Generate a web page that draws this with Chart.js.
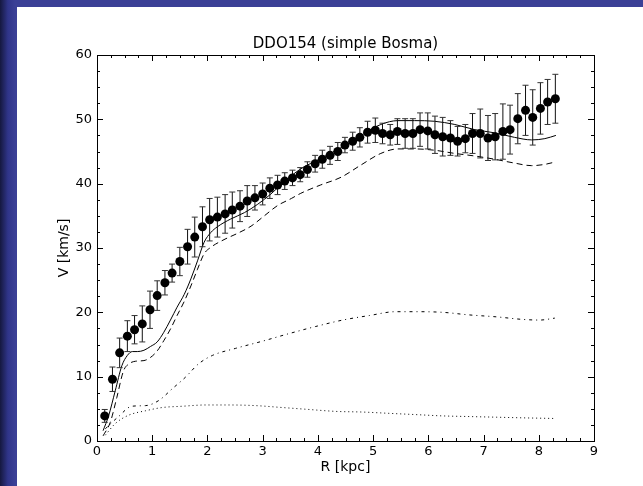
<!DOCTYPE html>
<html>
<head>
<meta charset="utf-8">
<script src="https://cdn.jsdelivr.net/npm/chart.js@4.4.1/dist/chart.umd.min.js"></script>
<style>
  html, body { margin: 0; padding: 0; }
  body {
    width: 643px; height: 486px; overflow: hidden; position: relative;
    background: linear-gradient(to right, #15183f 0px, #30358a 8px, #3b4096 15px, #3b4096 100%);
  }
  #panel { position: absolute; left: 17px; top: 7px; width: 626px; height: 479px; background: #fff; }
  canvas { display: block; }
</style>
</head>
<body>
<div id="panel"><canvas id="rc" width="626" height="479"></canvas></div>
<script>
// observed rotation curve
const rObs = [0.14, 0.28, 0.41, 0.55, 0.68, 0.82, 0.96, 1.09, 1.23, 1.36, 1.50, 1.64, 1.77, 1.91, 2.04, 2.18,
  2.32, 2.45, 2.59, 2.72, 2.86, 3.00, 3.13, 3.27, 3.40, 3.54, 3.68, 3.81, 3.95, 4.08, 4.22, 4.36, 4.49, 4.63,
  4.76, 4.90, 5.04, 5.17, 5.31, 5.44, 5.58, 5.72, 5.85, 5.99, 6.12, 6.26, 6.40, 6.53, 6.67, 6.80, 6.94, 7.08,
  7.21, 7.35, 7.48, 7.62, 7.76, 7.89, 8.03, 8.16, 8.30];
const vObs = [3.9, 9.6, 13.7, 16.3, 17.3, 18.2, 20.4, 22.6, 24.6, 26.1, 27.9, 30.2, 31.7, 33.3, 34.4, 34.8,
  35.3, 35.9, 36.5, 37.3, 37.8, 38.4, 39.3, 39.8, 40.4, 40.9, 41.4, 42.2, 43.1, 43.8, 44.4, 45.0, 46.0, 46.6,
  47.2, 48.0, 48.3, 47.8, 47.6, 48.1, 47.8, 47.8, 48.4, 48.2, 47.6, 47.3, 47.1, 46.6, 47.0, 47.8, 47.8, 47.1,
  47.3, 48.1, 48.4, 50.1, 51.4, 50.3, 51.7, 52.7, 53.2];
const vErr = [1.0, 1.9, 2.3, 2.4, 2.2, 2.8, 2.9, 2.3, 1.9, 1.4, 2.2, 2.7, 3.1, 3.1, 3.3, 3.1,
  3.0, 2.8, 2.4, 2.4, 1.9, 1.7, 1.6, 1.5, 1.3, 1.2, 1.1, 1.2, 1.3, 1.4, 1.4, 1.4, 1.2, 1.4,
  1.5, 1.7, 1.9, 1.6, 1.6, 2.0, 2.3, 2.3, 2.6, 2.8, 2.9, 3.0, 2.7, 2.3, 2.2, 3.1, 3.8, 3.5,
  3.6, 4.3, 3.8, 3.9, 3.9, 4.3, 4.0, 3.5, 3.8];

// total model (solid)
const rTotal = [0.11, 0.21, 0.33, 0.45, 0.55, 0.64, 0.73, 0.85, 0.97, 1.09, 1.21, 1.33, 1.45, 1.58, 1.70, 1.82,
  1.94, 2.06, 2.18, 2.42, 2.67, 2.91, 3.15, 3.39, 3.69, 4.05, 4.42, 4.78, 5.14, 5.45, 5.75, 6.11, 6.48, 6.84,
  7.20, 7.56, 7.87, 8.11, 8.31];
const vTotal = [1.6, 3.9, 7.8, 11.7, 13.3, 13.9, 13.9, 14.1, 14.7, 15.4, 16.9, 18.8, 20.8, 22.8, 25.2, 28.0,
  30.9, 32.4, 33.3, 34.5, 35.5, 36.8, 38.4, 40.3, 42.3, 43.9, 45.6, 47.5, 49.2, 49.8, 49.8, 49.7, 49.2, 48.4,
  47.9, 47.2, 46.8, 47.0, 47.5];

// halo (dashed)
const rHalo = [0.11, 0.24, 0.36, 0.48, 0.58, 0.70, 0.85, 0.97, 1.09, 1.21, 1.33, 1.45, 1.58, 1.70, 1.82, 1.94,
  2.06, 2.30, 2.55, 2.79, 3.03, 3.27, 3.52, 3.69, 4.05, 4.42, 4.78, 5.14, 5.45, 5.75, 6.11, 6.48, 6.84, 7.20,
  7.56, 7.87, 8.11, 8.31];
const vHalo = [0.8, 2.9, 6.8, 10.9, 12.0, 12.4, 12.5, 13.0, 14.0, 15.6, 17.4, 19.5, 21.7, 24.1, 26.7, 29.1,
  30.1, 31.3, 32.3, 33.4, 35.0, 36.6, 37.7, 38.5, 39.8, 41.0, 42.9, 44.7, 45.4, 45.4, 45.2, 44.7, 44.3, 43.8,
  43.2, 42.8, 43.0, 43.4];

// gas (dash-dot)
const rGas = [0.15, 0.39, 0.63, 0.88, 1.12, 1.36, 1.60, 1.84, 2.09, 2.51, 2.99, 3.48, 3.96, 4.45, 4.93, 5.41,
  5.78, 6.26, 6.74, 7.23, 7.71, 8.02, 8.29];
const vGas = [1.9, 3.8, 5.4, 5.5, 6.3, 8.1, 9.9, 12.0, 13.3, 14.4, 15.5, 16.7, 17.8, 18.8, 19.5, 20.1,
  20.1, 20.0, 19.6, 19.3, 18.9, 18.8, 19.1];

// stars (dotted)
const rStar = [0.15, 0.33, 0.57, 0.88, 1.18, 1.54, 1.97, 2.39, 2.87, 3.36, 3.84, 4.33, 4.81, 5.29, 5.78, 6.26,
  6.74, 7.23, 7.71, 8.29];
const vStar = [0.9, 2.7, 4.0, 4.7, 5.2, 5.4, 5.6, 5.6, 5.5, 5.2, 4.9, 4.6, 4.5, 4.3, 4.1, 3.9,
  3.8, 3.7, 3.6, 3.5];

const FONT = "'DejaVu Sans', sans-serif";

function pairs(xs, ys) {
  return xs.map((x, i) => ({ x: x, y: ys[i] }));
}

// error bars as broken line segments, caps drawn as 'line' points
const errData = [];
rObs.forEach((r, i) => {
  errData.push({ x: r, y: vObs[i] - vErr[i] });
  errData.push({ x: r, y: vObs[i] + vErr[i] });
  errData.push({ x: r, y: null });
});

function curve(xs, ys, dash) {
  return {
    data: pairs(xs, ys),
    showLine: true,
    borderColor: "#000",
    borderWidth: 1,
    borderDash: dash,
    pointRadius: 0,
    cubicInterpolationMode: "monotone",
  };
}

// inward ticks on all four sides plus the frame
const frameTicks = {
  id: "frameTicks",
  afterDatasetsDraw(chart) {
    const { ctx, chartArea: a, scales: { x, y } } = chart;
    ctx.save();
    ctx.strokeStyle = "#000";
    ctx.lineWidth = 1;
    ctx.beginPath();
    for (let k = 0; k <= 36; k++) {
      const px = Math.round(x.getPixelForValue(k * 0.25)) + 0.5;
      const len = k % 4 === 0 ? 6 : 3;
      ctx.moveTo(px, a.bottom); ctx.lineTo(px, a.bottom - len);
      ctx.moveTo(px, a.top); ctx.lineTo(px, a.top + len);
    }
    for (let k = 0; k <= 24; k++) {
      const py = Math.round(y.getPixelForValue(k * 2.5)) + 0.5;
      const len = k % 4 === 0 ? 6 : 3;
      ctx.moveTo(a.left, py); ctx.lineTo(a.left + len, py);
      ctx.moveTo(a.right, py); ctx.lineTo(a.right - len, py);
    }
    ctx.stroke();
    ctx.strokeRect(Math.round(a.left) + 0.5, Math.round(a.top) + 0.5,
      Math.round(a.right - a.left), Math.round(a.bottom - a.top));
    ctx.restore();
  },
};

new Chart(document.getElementById("rc"), {
  type: "scatter",
  data: {
    datasets: [
      {
        data: pairs(rObs, vObs),
        pointRadius: 4.5,
        pointBackgroundColor: "#000",
        pointBorderWidth: 0,
      },
      {
        data: errData,
        showLine: true,
        spanGaps: false,
        borderColor: "#111",
        borderWidth: 1,
        pointStyle: "line",
        pointRadius: 3,
        pointBorderColor: "#333",
        pointBorderWidth: 1,
      },
      curve(rTotal, vTotal, []),
      curve(rHalo, vHalo, [6, 4]),
      curve(rGas, vGas, [3, 4, 1, 4]),
      curve(rStar, vStar, [1, 3]),
    ],
  },
  options: {
    responsive: false,
    animation: false,
    events: [],
    layout: { padding: { left: 0, right: 49, top: 0, bottom: 0 } },
    plugins: {
      legend: { display: false },
      tooltip: { enabled: false },
      title: {
        display: true,
        text: "DDO154 (simple Bosma)",
        fullSize: false,
        color: "#000",
        font: { family: FONT, size: 15, weight: "normal" },
        padding: { top: 28.5, bottom: 1.5 },
      },
    },
    scales: {
      x: {
        type: "linear",
        min: 0,
        max: 9,
        grid: { display: false, drawTicks: false },
        border: { display: false },
        ticks: { stepSize: 1, color: "#000", padding: 3, font: { family: FONT, size: 13 } },
        title: {
          display: true,
          text: "R [kpc]",
          color: "#000",
          font: { family: FONT, size: 14 },
          padding: { top: 0, bottom: 10 },
        },
        afterFit(s) { s.height = 45; },
      },
      y: {
        type: "linear",
        min: 0,
        max: 60,
        grid: { display: false, drawTicks: false },
        border: { display: false },
        ticks: { stepSize: 10, color: "#000", padding: 5, font: { family: FONT, size: 13 } },
        title: {
          display: true,
          text: "V [km/s]",
          color: "#000",
          font: { family: FONT, size: 14 },
          padding: { top: 38.5, bottom: 0 },
        },
        afterFit(s) { s.width = 80; },
      },
    },
  },
  plugins: [frameTicks],
});
</script>
</body>
</html>
